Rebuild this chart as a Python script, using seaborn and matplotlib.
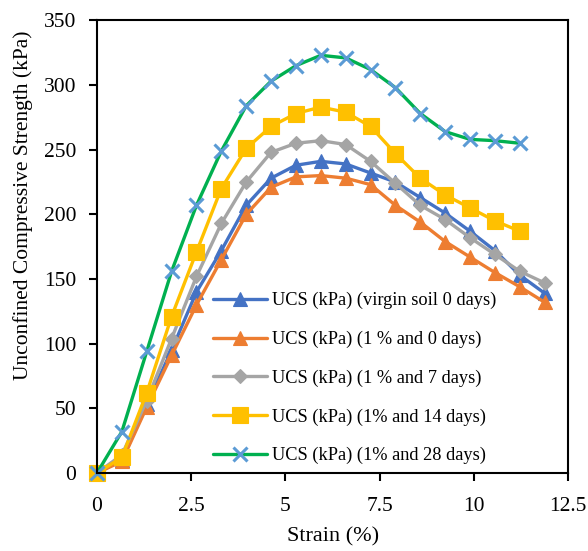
import matplotlib
matplotlib.use("Agg")
import matplotlib.pyplot as plt
import seaborn as sns
import pandas as pd

strain = [0, 0.66, 1.32, 1.98, 2.64, 3.3, 3.96, 4.62, 5.28, 5.94, 6.6, 7.26,
          7.92, 8.58, 9.24, 9.9, 10.56, 11.22, 11.88]

ucs_virgin_0d = [0, 10, 53, 95, 140, 172, 207, 228, 238, 241, 239, 232,
                 225, 213, 201, 187, 172, 153, 139]
ucs_1pct_0d = [0, 9, 51, 91, 130, 165, 200, 221, 229, 230, 228, 223,
               207, 194, 179, 167, 155, 144, 132]
ucs_1pct_7d = [0, 14, 56, 104, 152, 193, 225, 248, 255, 257, 254, 241,
               224, 207, 196, 182, 169, 156, 147]
ucs_1pct_14d = [0, 12, 62, 121, 171, 220, 251, 268, 278, 283, 279, 268,
                247, 228, 215, 205, 195, 187]
ucs_1pct_28d = [0, 32, 94, 156, 207, 249, 284, 303, 315, 323, 321, 312,
                298, 278, 264, 258, 257, 255]

labels = ["UCS (kPa) (virgin soil 0 days)",
          "UCS (kPa) (1 % and 0 days)",
          "UCS (kPa) (1 % and 7 days)",
          "UCS (kPa) (1% and 14 days)",
          "UCS (kPa) (1% and 28 days)"]
series = [ucs_virgin_0d, ucs_1pct_0d, ucs_1pct_7d, ucs_1pct_14d, ucs_1pct_28d]

line_colors = ["#4472C4", "#ED7D31", "#A5A5A5", "#FFC000", "#00B050"]
marker_colors = ["#4472C4", "#ED7D31", "#A5A5A5", "#FFC000", "#5B9BD5"]
markers = ["^", "^", "D", "s", "x"]
msizes = [9.5, 9.5, 7.5, 11, 10.5]

sns.set_theme(style="white")
plt.rcParams["font.family"] = ["Liberation Serif", "DejaVu Serif"]

fig = plt.figure(figsize=(5.88, 5.51), dpi=100)
ax = fig.add_axes([97/588, 1-473/551, 471/588, (473-20.4)/551])

for lab, vals, lc, mc, mk, ms in zip(labels, series, line_colors, marker_colors, markers, msizes):
    df = pd.DataFrame({"Strain": strain[:len(vals)], "UCS": vals})
    sns.lineplot(data=df, x="Strain", y="UCS", ax=ax, color=lc, linewidth=2.4,
                 marker=mk, markersize=ms, markerfacecolor=mc, markeredgecolor=mc,
                 markeredgewidth=2.2 if mk == "x" else 0.8, label=lab, clip_on=False)

ax.set_xlim(0, 12.5)
ax.set_ylim(0, 350)
ax.set_xticks([0, 2.5, 5, 7.5, 10, 12.5])
ax.set_xticklabels(["0", "2.5", "5", "7.5", "10", "12.5"])
ax.set_yticks(range(0, 351, 50))
ax.tick_params(axis="both", which="major", labelsize=15.5, direction="out",
               length=6, width=1.5, color="black", labelcolor="black",
               left=True, bottom=True)
ax.tick_params(axis="x", pad=11)
ax.tick_params(axis="y", pad=9)
for s in ax.spines.values():
    s.set_color("black")
    s.set_linewidth(1.5)
ax.set_xlabel("Strain (%)", fontsize=16, color="black", va="top")
ax.xaxis.set_label_coords((333-97)/471, (473-527)/452.6)
ax.set_ylabel("Unconfined Compressive Strength (kPa)", fontsize=15.5, color="black")
ax.yaxis.set_label_coords((33-97)/471, (473-205)/452.6)

leg = ax.legend(loc="upper left", bbox_to_anchor=((213-97)/471, (473-292)/452.6),
                frameon=False, fontsize=13.2, handlelength=2.95, handletextpad=0.27,
                labelspacing=1.17, borderpad=0, borderaxespad=0, numpoints=1)
for t in leg.get_texts():
    t.set_color("black")

fig.savefig("out.png", dpi=100)
